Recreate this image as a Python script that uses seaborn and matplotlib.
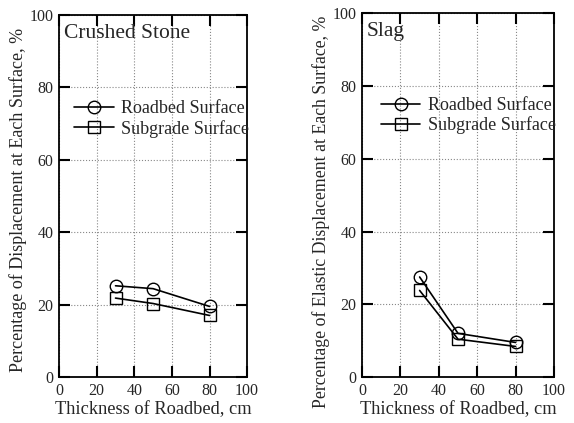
import matplotlib
matplotlib.use("Agg")
import matplotlib.pyplot as plt
import seaborn as sns
import pandas as pd

sns.set_theme(style="ticks")
plt.rcParams['font.family'] = ['Liberation Serif', 'DejaVu Serif']
plt.rcParams['mathtext.fontset'] = 'stix'

thickness = [30, 50, 80]
stone_roadbed = [25.2, 24.4, 19.5]
stone_subgrade = [21.8, 20.3, 17.0]
slag_roadbed = [27.5, 12.0, 9.5]
slag_subgrade = [23.8, 10.4, 8.4]
series_names = ["Roadbed Surface", "Subgrade Surface"]
ticks = [0, 20, 40, 60, 80, 100]

fig = plt.figure(figsize=(5.74, 4.23), dpi=100)
ax1 = fig.add_axes([0.103, 0.1087, 0.3275, 0.856])
ax2 = fig.add_axes([0.6307, 0.1087, 0.3345, 0.860])

panels = [
    (ax1, stone_roadbed, stone_subgrade, "Crushed Stone",
     "Percentage of Displacement at Each Surface, %", 0.785, 0.04, 13.0, 0.49),
    (ax2, slag_roadbed, slag_subgrade, "Slag",
     "Percentage of Elastic Displacement at Each Surface, %", 0.79, 0.06, 12.8, 0.455),
]

markers = ["o", "s"]
for ax, rb, sg, title, ylab, legy, legx, yfs, ylab_y in panels:
    for vals, name, mk in zip([rb, sg], series_names, markers):
        df = pd.DataFrame({"x": thickness, "y": vals})
        sns.lineplot(data=df, x="x", y="y", ax=ax, color="black", lw=1.2,
                     marker=mk, markersize=9, markerfacecolor="none",
                     markeredgecolor="black", markeredgewidth=1.0, label=name)
    ax.set_xlim(0, 100)
    ax.set_ylim(0, 100)
    ax.set_xticks(ticks)
    ax.set_yticks(ticks)
    ax.grid(True, linestyle=":", color="#888888", linewidth=0.8)
    ax.tick_params(direction="in", length=8, width=1.5, top=True, right=True,
                   labelsize=11.5, color="black", pad=4)
    for s in ax.spines.values():
        s.set_linewidth(1.3)
        s.set_color("black")
    ax.set_xlabel("Thickness of Roadbed, cm", fontsize=13.2, labelpad=2)
    ax.set_ylabel(ylab, fontsize=yfs, labelpad=2)
    ax.yaxis.label.set_y(ylab_y)
    ax.text(0.025, 0.975, title, transform=ax.transAxes, fontsize=15.5,
            va="top", ha="left")
    ax.legend(loc="upper left", bbox_to_anchor=(legx, legy), frameon=False,
              fontsize=13, handlelength=2.2, handletextpad=0.4,
              borderaxespad=0, labelspacing=0.15)

fig.savefig("out.png", dpi=100)
